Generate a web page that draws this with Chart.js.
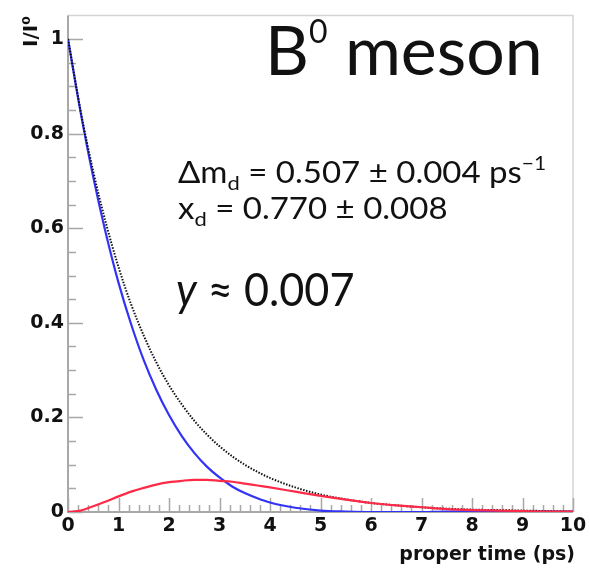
<!DOCTYPE html>
<html>
<head>
<meta charset="utf-8">
<script src="https://cdn.jsdelivr.net/npm/chart.js@4.4.1/dist/chart.umd.min.js"></script>
<style>
  body { margin: 0; background: #fff; }
  canvas { display: block; }
</style>
</head>
<body>
<canvas id="chart" width="590" height="570"></canvas>
<script>
// proper time (ps) and the three decay curves
const properTime = [0, 0.25, 0.5, 0.75, 1, 1.25, 1.5, 1.75, 2, 2.25, 2.5, 2.75, 3, 3.25, 3.5, 3.75, 4,
  4.5, 5, 5.5, 6, 6.5, 7, 7.5, 8, 8.5, 9, 9.5, 10];
const totalDecay = [1, 0.848, 0.720, 0.611, 0.518, 0.439, 0.373, 0.316, 0.268, 0.228, 0.193, 0.164, 0.139,
  0.118, 0.100, 0.085, 0.072, 0.052, 0.037, 0.027, 0.019, 0.014, 0.010, 0.007, 0.005, 0.004, 0.003, 0.002, 0.001];
const unmixed = [1, 0.845, 0.708, 0.589, 0.485, 0.397, 0.321, 0.258, 0.205, 0.161, 0.125, 0.096, 0.073,
  0.054, 0.040, 0.029, 0.020, 0.009, 0.003, 0.001, 0, 0, 0, 0.001, 0.001, 0.001, 0.001, 0.001, 0.001];
const mixed = [0, 0.003, 0.012, 0.022, 0.033, 0.043, 0.051, 0.058, 0.063, 0.066, 0.068, 0.068, 0.066,
  0.064, 0.060, 0.056, 0.052, 0.043, 0.034, 0.026, 0.019, 0.014, 0.010, 0.006, 0.004, 0.003, 0.002, 0.001, 0.001];

const xTickValues = [0, 1, 2, 3, 4, 5, 6, 7, 8, 9, 10];
const yTickValues = [0, 0.2, 0.4, 0.6, 0.8, 1];

const tickFont = {family: 'DejaVu Sans', weight: 'bold', size: 19};
const axisGray = '#a8a8a8';

function toPoints(values) {
  return values.map((y, i) => ({x: properTime[i], y}));
}

// draws a line of text made of runs (for sub/superscripts), squeezed or stretched by xScale
function drawRuns(ctx, x, y, runs, xScale = 1) {
  ctx.save();
  ctx.translate(x, y);
  ctx.scale(xScale, 1);
  let cursor = 0;
  runs.forEach(run => {
    ctx.font = `${run.italic ? 'italic ' : ''}${run.size}px Lato, "Open Sans", sans-serif`;
    ctx.fillText(run.text, cursor, run.dy || 0);
    cursor += ctx.measureText(run.text).width;
  });
  ctx.restore();
}

const framePlugin = {
  id: 'frame',
  beforeDatasetsDraw(chart) {
    const {ctx, chartArea: area, scales: {x, y}} = chart;
    ctx.save();

    ctx.strokeStyle = '#d4d4d4';
    ctx.lineWidth = 1.5;
    ctx.beginPath();
    ctx.moveTo(area.left, area.top);
    ctx.lineTo(area.right, area.top);
    ctx.lineTo(area.right, area.bottom);
    ctx.stroke();

    ctx.strokeStyle = axisGray;
    ctx.lineWidth = 2;
    ctx.beginPath();
    ctx.moveTo(area.left, area.top);
    ctx.lineTo(area.left, area.bottom);
    ctx.lineTo(area.right, area.bottom);
    ctx.stroke();

    ctx.lineWidth = 1.5;
    ctx.beginPath();
    for (let i = 0; i <= 50; i++) {
      const px = Math.round(x.getPixelForValue(i * 0.2)) + 0.5;
      const len = i % 5 === 0 ? 14 : 7;
      ctx.moveTo(px, area.bottom);
      ctx.lineTo(px, area.bottom - len);
    }
    for (let i = 0; i <= 20; i++) {
      const py = Math.round(y.getPixelForValue(i * 0.05)) + 0.5;
      const len = i % 4 === 0 ? 15 : 8;
      ctx.moveTo(area.left, py);
      ctx.lineTo(area.left + len, py);
    }
    ctx.stroke();
    ctx.restore();
  },
  afterDraw(chart) {
    const {ctx, chartArea: area} = chart;
    ctx.save();
    ctx.fillStyle = '#111';
    ctx.textBaseline = 'alphabetic';

    // axis titles
    ctx.font = 'bold 19px "DejaVu Sans"';
    ctx.textAlign = 'right';
    ctx.fillText('proper time (ps)', area.right + 2, 560);

    ctx.font = 'bold 20px "DejaVu Sans"';
    ctx.textAlign = 'left';
    ctx.translate(37, 47);
    ctx.rotate(-Math.PI / 2);
    ctx.fillText('I/I\u2070', 0, 0);
    ctx.setTransform(1, 0, 0, 1, 0, 0);

    // title and annotations
    drawRuns(ctx, 265, 75, [
      {text: 'B', size: 68},
      {text: '0', size: 32, dy: -32},
      {text: ' meson', size: 68},
    ]);
    drawRuns(ctx, 178, 183, [
      {text: '\u0394m', size: 30},
      {text: 'd', size: 20, dy: 7},
      {text: ' = 0.507 \u00b1 0.004 ps', size: 30},
      {text: '\u22121', size: 19, dy: -13},
    ], 1.1);
    drawRuns(ctx, 178, 219, [
      {text: 'x', size: 30},
      {text: 'd', size: 20, dy: 7},
      {text: ' = 0.770 \u00b1 0.008', size: 30},
    ], 1.1);
    drawRuns(ctx, 176, 306, [
      {text: 'y', size: 47, italic: true},
      {text: ' \u2248 0.007', size: 47},
    ], 0.92);
    ctx.restore();
  },
};

const context = document.getElementById('chart').getContext('2d');
new Chart(context, {
  type: 'line',
  data: {
    datasets: [
      {
        label: 'mixed',
        data: toPoints(mixed),
        borderColor: '#ff2a48',
        borderWidth: 2.2,
        order: 0,
      },
      {
        label: 'total',
        data: toPoints(totalDecay),
        borderColor: '#111',
        borderWidth: 2,
        borderDash: [1.5, 1.5],
        order: 1,
      },
      {
        label: 'unmixed',
        data: toPoints(unmixed),
        borderColor: '#3333f5',
        borderWidth: 2.2,
        order: 2,
      },
    ],
  },
  options: {
    responsive: false,
    animation: false,
    layout: {padding: {top: 15, right: 17, bottom: 0, left: 0}},
    elements: {
      point: {radius: 0},
      line: {cubicInterpolationMode: 'monotone'},
    },
    plugins: {
      legend: {display: false},
      tooltip: {enabled: false},
    },
    scales: {
      x: {
        type: 'linear',
        min: 0,
        max: 10,
        grid: {display: false, drawTicks: false},
        border: {display: false},
        afterBuildTicks: scale => {
          scale.ticks = xTickValues.map(value => ({value}));
        },
        afterFit: scale => {
          scale.height = 58;
        },
        ticks: {font: tickFont, color: '#111', padding: 3, maxRotation: 0, callback: value => String(value)},
      },
      y: {
        type: 'linear',
        min: 0,
        max: 1.05,
        grid: {display: false, drawTicks: false},
        border: {display: false},
        afterBuildTicks: scale => {
          scale.ticks = yTickValues.map(value => ({value}));
        },
        afterFit: scale => {
          scale.width = 68;
        },
        ticks: {font: tickFont, color: '#111', padding: 4, callback: value => String(value)},
      },
    },
  },
  plugins: [framePlugin],
});
</script>
</body>
</html>
